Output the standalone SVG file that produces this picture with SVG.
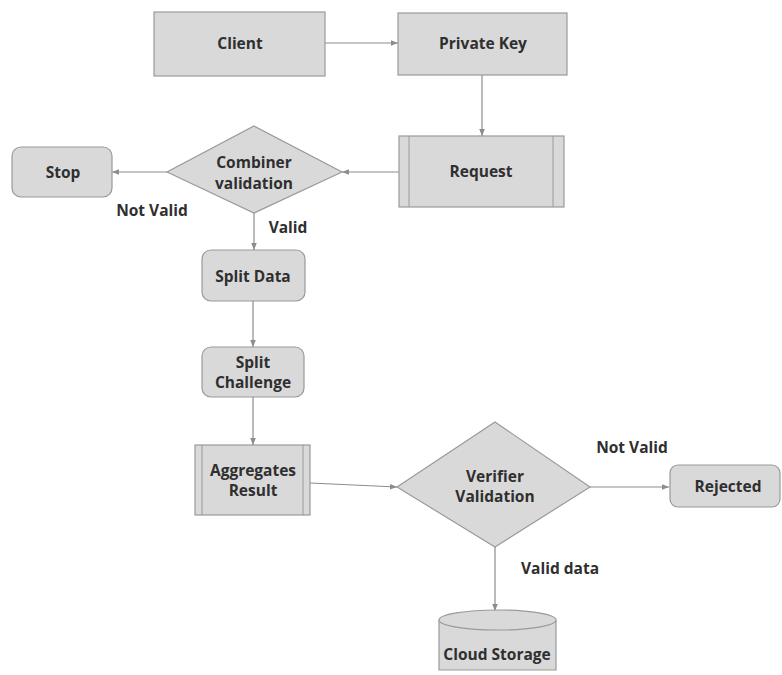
<svg xmlns="http://www.w3.org/2000/svg" width="782" height="675" viewBox="0 0 782 675">
<style>
.n{fill:#d9d9d9;stroke:#9a9a9a;stroke-width:1.2}
.in{fill:none;stroke:#9a9a9a;stroke-width:1}
.t{font-family:"Open Sans","Noto Sans",sans-serif;font-weight:bold;font-size:15.5px;fill:#2f2f2f;text-anchor:middle}
.c{fill:none;stroke:#8c8c8c;stroke-width:1.2}
</style>
<defs>
<marker id="a" viewBox="0 0 10 10" refX="10" refY="5" markerWidth="7" markerHeight="7" orient="auto" markerUnits="userSpaceOnUse">
<path d="M0,1 L10,5 L0,9 z" fill="#8c8c8c"/>
</marker>
</defs>
<rect width="782" height="675" fill="#ffffff"/>
<g id="connectors">
<line class="c" x1="325" y1="43" x2="398" y2="43" marker-end="url(#a)"/>
<line class="c" x1="482" y1="75" x2="482" y2="136" marker-end="url(#a)"/>
<line class="c" x1="399" y1="172" x2="342" y2="172" marker-end="url(#a)"/>
<line class="c" x1="167" y1="172" x2="112" y2="172" marker-end="url(#a)"/>
<line class="c" x1="254" y1="213" x2="254" y2="250" marker-end="url(#a)"/>
<line class="c" x1="253" y1="301" x2="253" y2="347" marker-end="url(#a)"/>
<line class="c" x1="253" y1="397" x2="253" y2="445" marker-end="url(#a)"/>
<line class="c" x1="310" y1="483" x2="397" y2="487" marker-end="url(#a)"/>
<line class="c" x1="590" y1="487" x2="669" y2="487" marker-end="url(#a)"/>
<line class="c" x1="495" y1="547" x2="495" y2="611" marker-end="url(#a)"/>
<text class="t" x="152" y="216">Not Valid</text>
<text class="t" x="288" y="233">Valid</text>
<text class="t" x="632" y="453">Not Valid</text>
<text class="t" x="560" y="574">Valid data</text>
</g>
<g id="client">
<rect class="n" x="154" y="12" width="171" height="64"/>
<text class="t" x="240" y="49">Client</text>
</g>
<g id="private-key">
<rect class="n" x="398" y="13" width="169" height="62"/>
<text class="t" x="483" y="49">Private Key</text>
</g>
<g id="request">
<rect class="n" x="399" y="136" width="165" height="71"/>
<line class="in" x1="409" y1="136" x2="409" y2="207"/>
<line class="in" x1="553" y1="136" x2="553" y2="207"/>
<text class="t" x="481" y="177">Request</text>
</g>
<g id="combiner-validation">
<polygon class="n" points="254,126 342,172 254,213 167,172"/>
<text class="t" x="254" y="168">Combiner</text>
<text class="t" x="254" y="189">validation</text>
</g>
<g id="stop">
<rect class="n" x="12" y="147" width="100" height="50" rx="9"/>
<text class="t" x="63" y="178">Stop</text>
</g>
<g id="split-data">
<rect class="n" x="202" y="250" width="103" height="51" rx="9"/>
<text class="t" x="253" y="282">Split Data</text>
</g>
<g id="split-challenge">
<rect class="n" x="202" y="347" width="102" height="50" rx="9"/>
<text class="t" x="253" y="368">Split</text>
<text class="t" x="253" y="388">Challenge</text>
</g>
<g id="aggregates-result">
<rect class="n" x="195" y="445" width="115" height="70"/>
<line class="in" x1="202" y1="445" x2="202" y2="515"/>
<line class="in" x1="303" y1="445" x2="303" y2="515"/>
<text class="t" x="253" y="476">Aggregates</text>
<text class="t" x="253" y="496">Result</text>
</g>
<g id="verifier-validation">
<polygon class="n" points="495,422 590,487 495,547 397,487"/>
<text class="t" x="495" y="482">Verifier</text>
<text class="t" x="495" y="502">Validation</text>
</g>
<g id="rejected">
<rect class="n" x="670" y="465" width="110" height="42" rx="8"/>
<text class="t" x="728" y="492">Rejected</text>
</g>
<g id="cloud-storage">
<path class="n" d="M439,620 L439,670 L556,670 L556,620"/>
<ellipse class="n" cx="497.5" cy="620" rx="58.5" ry="10"/>
<text class="t" x="497" y="660">Cloud Storage</text>
</g>
</svg>
